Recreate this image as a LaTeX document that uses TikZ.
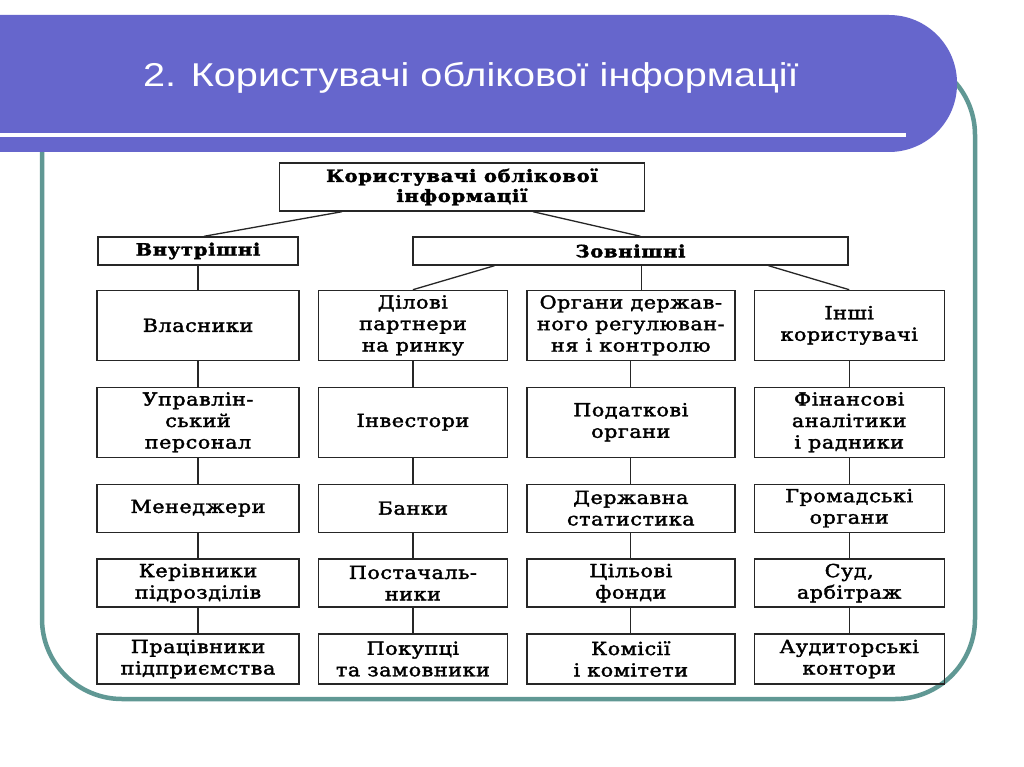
\documentclass[tikz,border=0pt]{standalone}
\usepackage{fontspec}
\setmainfont{Liberation Sans}
\newfontfamily\titlefont[FakeStretch=1.2]{Liberation Sans}
\newfontfamily\boxfont[FakeStretch=1.15,LetterSpace=3,FakeBold=2]{DejaVu Serif}
\newfontfamily\headfont[FakeStretch=1.15,LetterSpace=4,FakeBold=2]{DejaVu Serif}
\usetikzlibrary{positioning,calc}
\definecolor{bannerblue}{RGB}{102,102,204}
\definecolor{frameteal}{RGB}{96,152,148}

\begin{document}
\begin{tikzpicture}[
    x=1pt, y=-1pt,
    box/.style={draw=black!85, line width=1.4pt, align=center, inner sep=2pt,
        font=\boxfont\fontsize{18}{21.5}\selectfont},
    head/.style={box, font=\headfont\bfseries\fontsize{17}{20}\selectfont},
    link/.style={draw=black!85, line width=1.3pt},
    c1/.style={minimum width=202pt},
    c2/.style={minimum width=189pt},
    c3/.style={minimum width=208pt},
    c4/.style={minimum width=190pt},
    tall/.style={minimum height=70pt},
    low/.style={minimum height=48pt},
    node distance=25.5pt and 18pt
]

% Slide background
\useasboundingbox (0,0) rectangle (1024,767);
\fill[white] (0,0) rectangle (1024,767);
\draw[frameteal, line width=4.5pt, rounded corners=80pt] (42,55) rectangle (975,699);
\fill[bannerblue, rounded corners=68pt] (-80,15) rectangle (957,152);
\fill[white] (0,133) rectangle (906,137);
\node[anchor=base west, text=white, inner sep=0, font=\titlefont\fontsize{33}{40}\selectfont] (title) at (143,87)
    {2. Користувачі облікової інформації};

% Top levels
\node[head, minimum width=365pt, minimum height=48pt] (users) at (462,187) {Користувачі облікової\\інформації};
\node[head, minimum width=200pt, minimum height=28pt] (internal) at (198,251) {Внутрішні};
\node[head, minimum width=435pt, minimum height=28pt] (external) at (630.5,251) {Зовнішні};

% First row
\node[box, c1, tall, below=24pt of internal] (owners) {Власники};
\node[box, c2, tall, right=of owners] (partners) {Ділові\\партнери\\на ринку};
\node[box, c3, tall, right=of partners] (govbodies) {Органи держав-\\ного регулюван-\\ня і контролю};
\node[box, c4, tall, right=of govbodies] (others) {Інші\\користувачі};

% Internal users
\node[box, c1, tall, below=of owners] (managstaff) {Управлін-\\ський\\персонал};
\node[box, c1, low, below=of managstaff] (managers) {Менеджери};
\node[box, c1, low, below=of managers] (heads) {Керівники\\підрозділів};
\node[box, c1, low, minimum height=50pt, below=of heads] (workers) {Працівники\\підприємства};

% Business partners
\node[box, c2, tall, below=of partners] (investors) {Інвестори};
\node[box, c2, low, below=of investors] (banks) {Банки};
\node[box, c2, low, below=of banks] (suppliers) {Постачаль-\\ники};
\node[box, c2, low, minimum height=50pt, below=of suppliers] (buyers) {Покупці\\та замовники};

% State bodies
\node[box, c3, tall, below=of govbodies] (taxbodies) {Податкові\\органи};
\node[box, c3, low, below=of taxbodies] (statistics) {Державна\\статистика};
\node[box, c3, low, below=of statistics] (funds) {Цільові\\фонди};
\node[box, c3, low, minimum height=50pt, below=of funds] (committees) {Комісії\\і комітети};

% Other users
\node[box, c4, tall, below=of others] (analysts) {Фінансові\\аналітики\\і радники};
\node[box, c4, low, below=of analysts] (public) {Громадські\\органи};
\node[box, c4, low, below=of public] (court) {Суд,\\арбітраж};
\node[box, c4, low, minimum height=50pt, below=of court] (auditors) {Аудиторські\\контори};

% Links
\draw[link] ($(users.south)+(-120,0)$) -- ($(internal.north)+(6,0)$);
\draw[link] ($(users.south)+(71,0)$) -- ($(external.north)+(10,0)$);
\draw[link] (internal.south) -- (owners.north);
\draw[link] ($(external.south)+(-136,0)$) -- (partners.north);
\draw[link] ($(govbodies.north)+(11,0)$) -- ($(govbodies.north |- external.south)+(11,0)$);
\draw[link] ($(external.south)+(138,0)$) -- (others.north);

\draw[link] (owners) -- (managstaff);
\draw[link] (managstaff) -- (managers);
\draw[link] (managers) -- (heads);
\draw[link] (heads) -- (workers);

\draw[link] (partners) -- (investors);
\draw[link] (investors) -- (banks);
\draw[link] (banks) -- (suppliers);
\draw[link] (suppliers) -- (buyers);

\draw[link] (govbodies) -- (taxbodies);
\draw[link] (taxbodies) -- (statistics);
\draw[link] (statistics) -- (funds);
\draw[link] (funds) -- (committees);

\draw[link] (others) -- (analysts);
\draw[link] (analysts) -- (public);
\draw[link] (public) -- (court);
\draw[link] (court) -- (auditors);

\end{tikzpicture}
\end{document}
